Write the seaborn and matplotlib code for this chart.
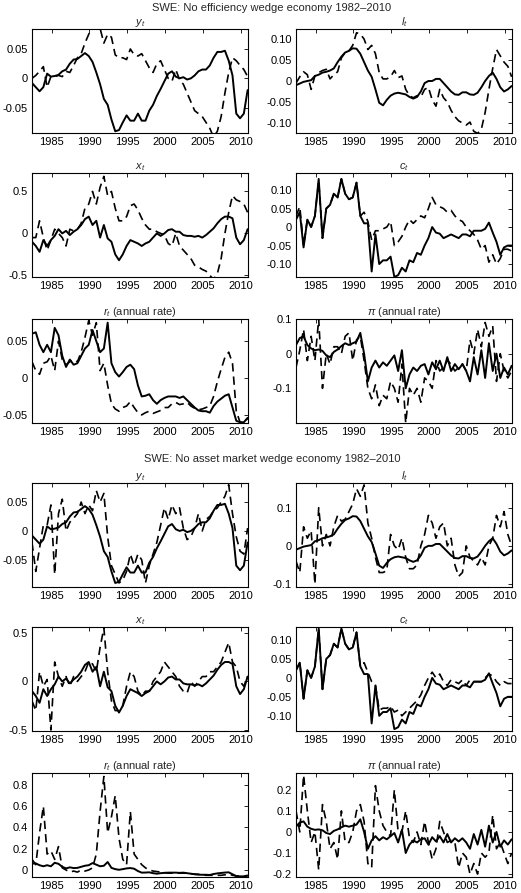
import numpy as np
import matplotlib.pyplot as plt
import seaborn as sns

# half-year observation dates, 1982 to 2010
dates = 1982.4 + 0.5 * np.arange(58)

# data (solid lines, same in both blocks)
y_data = [-0.008, -0.015, -0.022, -0.015, 0.008, 0.003, 0.004, 0.006, 0.012, 0.015,
          0.025, 0.032, 0.033, 0.038, 0.043, 0.038, 0.028, 0.01, -0.01, -0.035,
          -0.045, -0.07, -0.09, -0.088, -0.075, -0.063, -0.072, -0.072, -0.06, -0.072,
          -0.072, -0.055, -0.045, -0.03, -0.018, -0.005, 0.008, 0.012, 0.003, 0.0,
          0.002, -0.002, 0.0, 0.005, 0.012, 0.015, 0.015, 0.022, 0.035, 0.045,
          0.045, 0.047, 0.03, 0.005, -0.06, -0.068, -0.06, -0.02]
l_data = [-0.01, -0.006, -0.002, 0.0, 0.002, 0.012, 0.015, 0.02, 0.022, 0.025,
          0.03, 0.045, 0.058, 0.068, 0.072, 0.078, 0.077, 0.065, 0.045, 0.025,
          0.01, -0.02, -0.052, -0.058, -0.045, -0.035, -0.03, -0.028, -0.03, -0.032,
          -0.038, -0.042, -0.038, -0.025, -0.005, 0.0, 0.0, 0.005, 0.005, -0.005,
          -0.015, -0.025, -0.032, -0.033, -0.027, -0.027, -0.032, -0.033, -0.028, -0.015,
          0.0, 0.012, 0.02, 0.005, -0.015, -0.025, -0.02, -0.012]
x_data = [-0.1, -0.15, -0.22, -0.08, -0.15, -0.08, -0.03, 0.05, 0.0, 0.03,
          -0.02, 0.02, 0.05, 0.1, 0.17, 0.2, 0.1, 0.15, -0.05, 0.1,
          -0.06, -0.1, -0.25, -0.32, -0.25, -0.15, -0.08, -0.1, -0.12, -0.15,
          -0.12, -0.1, -0.05, 0.0, -0.03, 0.0, 0.04, 0.05, 0.02, 0.02,
          -0.02, -0.03, -0.03, -0.04, -0.03, -0.05, -0.02, 0.02, 0.06, 0.12,
          0.17, 0.2, 0.2, 0.18, -0.05, -0.13, -0.08, 0.05]
c_data = [0.02, 0.04, -0.055, 0.02, 0.0, 0.03, 0.13, -0.03, 0.05, 0.06,
          0.09, 0.08, 0.13, 0.09, 0.075, 0.08, 0.12, 0.03, 0.01, 0.01,
          -0.12, -0.02, -0.1, -0.09, -0.09, -0.08, -0.135, -0.13, -0.11, -0.12,
          -0.09, -0.095, -0.07, -0.075, -0.05, -0.03, 0.0, -0.015, -0.018, -0.03,
          -0.025, -0.02, -0.025, -0.03, -0.02, -0.02, -0.025, -0.01, -0.01, -0.01,
          -0.005, 0.012, -0.015, -0.04, -0.075, -0.055, -0.05, -0.05]
r_data = [0.06, 0.062, 0.045, 0.035, 0.045, 0.035, 0.068, 0.058, 0.03, 0.015,
          0.025, 0.018, 0.02, 0.03, 0.04, 0.045, 0.065, 0.05, 0.035, 0.04,
          0.075, 0.02, 0.008, 0.002, 0.008, 0.015, 0.018, 0.012, -0.01, -0.025,
          -0.024, -0.022, -0.03, -0.035, -0.03, -0.027, -0.025, -0.025, -0.025, -0.027,
          -0.025, -0.03, -0.035, -0.04, -0.044, -0.045, -0.045, -0.047, -0.038, -0.032,
          -0.028, -0.024, -0.022, -0.04, -0.058, -0.06, -0.06, -0.054]
pi_data = [0.025, 0.045, 0.05, 0.025, 0.015, 0.01, 0.012, 0.008, -0.005, -0.01,
           0.005, 0.012, 0.022, 0.03, 0.025, 0.03, 0.035, 0.06, 0.0, -0.08,
           -0.04, -0.02, -0.04, -0.025, -0.035, -0.02, -0.005, -0.05, 0.01, -0.1,
           -0.06, -0.04, -0.05, -0.035, -0.03, -0.06, -0.025, -0.045, -0.02, -0.05,
           -0.01, -0.05, -0.03, -0.045, -0.03, -0.05, -0.08, -0.01, -0.06, 0.01,
           -0.07, 0.03, -0.05, 0.0, -0.07, -0.04, -0.06, -0.035]

# no efficiency wedge economy (dashed, top block)
y_noeff = [0.0, 0.005, 0.012, 0.02, -0.015, 0.003, 0.003, 0.005, 0.003, 0.012,
           0.01, 0.022, 0.035, 0.042, 0.06, 0.075, 0.09, 0.085, 0.085, 0.06,
           0.075, 0.07, 0.04, 0.035, 0.035, 0.032, 0.05, 0.04, 0.038, 0.042,
           0.03, 0.018, 0.01, 0.025, 0.03, 0.015, 0.0, -0.005, 0.015, -0.002,
           -0.01, -0.025, -0.04, -0.055, -0.06, -0.065, -0.075, -0.085, -0.1, -0.09,
           -0.065, -0.025, 0.01, 0.035, 0.03, 0.022, 0.015, 0.003]
l_noeff = [-0.005, 0.01, 0.022, 0.015, -0.02, 0.012, 0.02, 0.025, 0.028, 0.005,
           0.015, 0.022, 0.055, 0.068, 0.072, 0.085, 0.115, 0.112, 0.1, 0.075,
           0.085, 0.065, 0.02, 0.005, 0.005, 0.01, 0.025, 0.008, 0.012, -0.02,
           -0.035, -0.04, -0.035, -0.038, -0.02, -0.015, -0.045, -0.06, -0.02, -0.04,
           -0.05, -0.07, -0.085, -0.095, -0.1, -0.105, -0.098, -0.12, -0.125, -0.115,
           -0.075, -0.02, 0.03, 0.075, 0.06, 0.045, 0.035, 0.01]
x_noeff = [-0.05, -0.05, 0.15, -0.05, -0.2, -0.08, 0.05, 0.0, -0.05, -0.15,
           0.05, 0.03, 0.05, 0.12, 0.3, 0.35, 0.5, 0.35, 0.55, 0.68,
           0.45, 0.5, 0.3, 0.15, 0.15, 0.2, 0.33, 0.35, 0.28, 0.18,
           0.1, 0.05, 0.05, 0.02, 0.0, -0.02, -0.12, -0.15, 0.0, -0.15,
           -0.2, -0.25, -0.3, -0.38, -0.4, -0.43, -0.45, -0.5, -0.55, -0.48,
           -0.3, 0.0, 0.25, 0.45, 0.4, 0.38, 0.35, 0.25]
c_noeff = [0.03, 0.055, -0.05, 0.02, 0.0, 0.03, 0.125, -0.03, 0.05, 0.06,
           0.09, 0.08, 0.13, 0.09, 0.075, 0.08, 0.12, 0.03, 0.04, 0.015,
           -0.035, -0.01, -0.01, -0.005, 0.0, 0.015, -0.05, -0.04, -0.025, 0.0,
           0.02, 0.01, 0.02, 0.03, 0.025, 0.05, 0.08, 0.06, 0.055, 0.05,
           0.04, 0.045, 0.03, 0.02, 0.015, 0.0, -0.01, -0.02, -0.035, -0.06,
           -0.05, -0.095, -0.075, -0.1, -0.085, -0.06, -0.06, -0.065]
r_noeff = [0.022, 0.01, 0.005, 0.02, 0.022, 0.03, 0.01, 0.05, 0.025, 0.018,
           0.022, 0.025, 0.022, 0.035, 0.055, 0.078, 0.058, 0.075, 0.01, 0.02,
           -0.01, -0.035, -0.042, -0.045, -0.04, -0.038, -0.032, -0.04, -0.047, -0.05,
           -0.047, -0.045, -0.048, -0.046, -0.044, -0.04, -0.04, -0.035, -0.033, -0.036,
           -0.035, -0.033, -0.038, -0.041, -0.043, -0.042, -0.04, -0.038, -0.025, -0.005,
           0.012, 0.028, 0.035, 0.02, -0.045, -0.06, -0.06, -0.055]
pi_noeff = [-0.04, 0.01, 0.07, -0.02, 0.05, -0.02, 0.1, -0.1, 0.0, -0.03,
            0.02, 0.02, 0.0, 0.05, 0.06, -0.02, 0.04, 0.05, -0.02, -0.1,
            -0.13, -0.09, -0.15, -0.12, -0.13, -0.08, -0.1, -0.14, -0.03, -0.2,
            -0.1, -0.12, -0.1, -0.14, -0.07, -0.08, -0.1, -0.02, -0.05, -0.04,
            -0.02, -0.03, -0.05, -0.04, -0.03, -0.05, 0.04, 0.0, 0.07, 0.02,
            0.09, 0.05, 0.08, -0.08, 0.0, -0.05, -0.07, -0.05]

# no asset market wedge economy (dashed, bottom block)
y_noasset = [-0.02, -0.07, -0.03, 0.01, 0.01, 0.045, -0.075, 0.03, 0.055, 0.0,
             0.015, 0.022, 0.03, 0.05, 0.03, 0.045, 0.035, 0.07, 0.05, 0.065,
             -0.01, -0.06, -0.075, -0.09, -0.085, -0.07, -0.04, -0.06, -0.04, -0.05,
             -0.09, -0.06, -0.04, -0.02, 0.01, 0.04, 0.02, 0.045, 0.03, 0.04,
             0.005, -0.015, -0.01, 0.005, 0.03, 0.0, 0.02, 0.025, 0.035, 0.04,
             0.05, 0.06, 0.08, 0.03, -0.01, -0.035, -0.04, 0.005]
l_noasset = [-0.04, -0.07, 0.05, 0.02, 0.04, -0.1, 0.1, 0.0, 0.03, 0.0,
             0.05, 0.08, 0.065, 0.07, 0.09, 0.11, 0.15, 0.13, 0.16, 0.06,
             0.02, -0.03, -0.07, -0.07, -0.065, 0.03, 0.0, -0.01, 0.02, -0.03,
             -0.06, -0.06, -0.05, 0.0, 0.03, 0.08, 0.06, 0.02, 0.05, 0.06,
             0.0, 0.02, -0.05, -0.08, -0.07, 0.0, -0.03, -0.04, -0.05, -0.03,
             -0.05, 0.0, 0.02, 0.08, 0.05, 0.09, 0.03, 0.0]
x_noasset = [-0.2, -0.3, 0.1, -0.05, 0.02, -0.5, 0.2, 0.05, -0.05, 0.05,
             -0.05, 0.05, 0.0, 0.05, 0.1, 0.2, 0.18, 0.1, 0.35, 0.55,
             0.1, -0.2, -0.3, -0.3, -0.25, -0.05, 0.1, 0.05, -0.1, -0.15,
             -0.1, -0.1, 0.0, 0.05, 0.1, 0.2, 0.15, 0.1, 0.05, -0.05,
             -0.1, -0.12, 0.0, -0.05, 0.0, 0.05, 0.05, 0.1, 0.1, 0.15,
             0.2, 0.3, 0.4, 0.2, 0.15, 0.0, -0.05, 0.05]
c_noasset = [0.02, 0.04, -0.055, 0.02, 0.0, 0.03, 0.13, -0.03, 0.05, 0.06,
             0.09, 0.08, 0.13, 0.09, 0.075, 0.08, 0.12, 0.03, 0.04, 0.015,
             -0.01, -0.02, -0.085, -0.08, -0.08, -0.075, -0.09, -0.085, -0.1, -0.09,
             -0.08, -0.07, -0.06, -0.045, -0.02, 0.0, 0.015, 0.0, 0.01, -0.01,
             -0.02, -0.005, -0.01, -0.015, -0.005, -0.02, -0.005, -0.01, -0.01, -0.01,
             0.0, 0.01, 0.005, -0.01, -0.02, -0.01, -0.015, -0.015]
r_noasset = [0.1, 0.05, 0.35, 0.6, 0.15, 0.18, 0.1, 0.22, 0.02, 0.0,
             -0.02, -0.01, -0.02, 0.0, -0.01, 0.0, 0.02, 0.15, 0.55, 0.88,
             0.35, 0.5, 0.7, 0.3, 0.1, 0.05, 0.55, 0.15, 0.1, 0.05,
             0.02, 0.0, -0.01, -0.015, -0.02, -0.025, -0.03, -0.03, -0.03, -0.03,
             -0.03, -0.03, -0.035, -0.04, -0.04, -0.045, -0.05, -0.05, -0.05, -0.05,
             -0.05, -0.045, -0.04, -0.05, -0.055, -0.06, -0.06, -0.05]
pi_noasset = [0.1, 0.0, 0.27, 0.1, -0.05, 0.0, -0.18, 0.13, 0.05, -0.08,
              -0.05, -0.13, 0.1, -0.05, -0.05, 0.0, 0.1, 0.13, 0.05, -0.15,
              -0.17, 0.22, 0.1, 0.03, 0.0, -0.02, 0.2, 0.0, 0.0, 0.1,
              -0.03, -0.05, 0.0, -0.06, 0.05, -0.05, -0.13, -0.08, 0.05, 0.0,
              -0.05, -0.04, -0.05, -0.17, -0.1, -0.12, -0.2, -0.15, -0.2, -0.1,
              -0.12, -0.1, 0.08, -0.08, -0.05, -0.1, -0.15, -0.1]

titles = [r'$y_t$', r'$l_t$', r'$x_t$', r'$c_t$', r'$r_t$ (annual rate)', r'$\pi$ (annual rate)']
block_titles = ['SWE: No efficiency wedge economy 1982\u20132010',
                'SWE: No asset market wedge economy 1982\u20132010']
year_ticks = [1985, 1990, 1995, 2000, 2005, 2010]

sns.set_theme(style='white')
plt.rcParams['font.family'] = ['Liberation Sans', 'DejaVu Sans']
plt.rcParams['mathtext.fontset'] = 'custom'
plt.rcParams['mathtext.it'] = 'Liberation Sans:italic'
plt.rcParams['mathtext.rm'] = 'Liberation Sans'
plt.rcParams['axes.unicode_minus'] = False

W, H = 521, 893
fig = plt.figure(figsize=(W / 100, H / 100), dpi=100)

col_left = [32, 296]
ax_w = 216
ax_h = 104
row_top = [29, 173, 319, 483, 627, 773]

panels = [
    # block, row, col, data, dashed, title, ylim, yticks, yticklabels
    (0, 0, 0, y_data, y_noeff, 0, (-0.093, 0.084), [-0.05, 0, 0.05], ['-0.05', '0', '0.05']),
    (0, 0, 1, l_data, l_noeff, 1, (-0.124, 0.124), [-0.1, -0.05, 0, 0.05, 0.1],
     ['-0.10', '-0.05', '0', '0.05', '0.10']),
    (0, 1, 0, x_data, x_noeff, 2, (-0.52, 0.72), [-0.5, 0, 0.5], ['-0.5', '0', '0.5']),
    (0, 1, 1, c_data, c_noeff, 3, (-0.135, 0.146), [-0.1, -0.05, 0, 0.05, 0.1],
     ['-0.10', '-0.05', '0', '0.05', '0.10']),
    (0, 2, 0, r_data, r_noeff, 4, (-0.061, 0.080), [-0.05, 0, 0.05], ['-0.05', '0', '0.05']),
    (0, 2, 1, pi_data, pi_noeff, 5, (-0.2, 0.1), [-0.1, 0, 0.1], ['-0.1', '0', '0.1']),
    (1, 3, 0, y_data, y_noasset, 0, (-0.097, 0.083), [-0.05, 0, 0.05], ['-0.05', '0', '0.05']),
    (1, 3, 1, l_data, l_noasset, 1, (-0.108, 0.165), [-0.1, 0, 0.1], ['-0.1', '0', '0.1']),
    (1, 4, 0, x_data, x_noasset, 2, (-0.51, 0.56), [-0.5, 0, 0.5], ['-0.5', '0', '0.5']),
    (1, 4, 1, c_data, c_noasset, 3, (-0.14, 0.134), [-0.1, -0.05, 0, 0.05, 0.1],
     ['-0.10', '-0.05', '0', '0.05', '0.10']),
    (1, 5, 0, r_data, r_noasset, 4, (-0.066, 0.913), [0, 0.2, 0.4, 0.6, 0.8],
     ['0', '0.2', '0.4', '0.6', '0.8']),
    (1, 5, 1, pi_data, pi_noasset, 5, (-0.214, 0.28), [-0.2, -0.1, 0, 0.1, 0.2],
     ['-0.2', '-0.1', '0', '0.1', '0.2']),
]

for block, row, col, solid, dashed, t, ylim, yt, ytl in panels:
    left = col_left[col] / W
    bottom = 1 - (row_top[row] + ax_h) / H
    ax = fig.add_axes([left, bottom, ax_w / W, ax_h / H])
    sns.lineplot(x=dates, y=solid, ax=ax, color='black', linewidth=1.4)
    sns.lineplot(x=dates, y=dashed, ax=ax, color='black', linewidth=1.2,
                 linestyle=(0, (5, 3)))
    ax.set_xlim(1982.4, 2010.95)
    ax.set_ylim(*ylim)
    ax.set_xticks(year_ticks)
    ax.set_xticklabels([str(v) for v in year_ticks])
    ax.set_yticks(yt)
    ax.set_yticklabels(ytl)
    ax.tick_params(direction='in', length=3, width=0.6, labelsize=8, pad=3,
                   top=True, right=True, colors='black')
    for sp in ax.spines.values():
        sp.set_color('black')
        sp.set_linewidth(0.8)
    ax.set_title(titles[t], fontsize=8, pad=3)
    ax.set_xlabel('')
    ax.set_ylabel('')

fig.text(272 / W, 1 - 8 / H, block_titles[0], ha='center', va='center', fontsize=8)
fig.text(272 / W, 1 - 459 / H, block_titles[1], ha='center', va='center', fontsize=8)

fig.savefig('out.png', dpi=100)
plt.close(fig)
